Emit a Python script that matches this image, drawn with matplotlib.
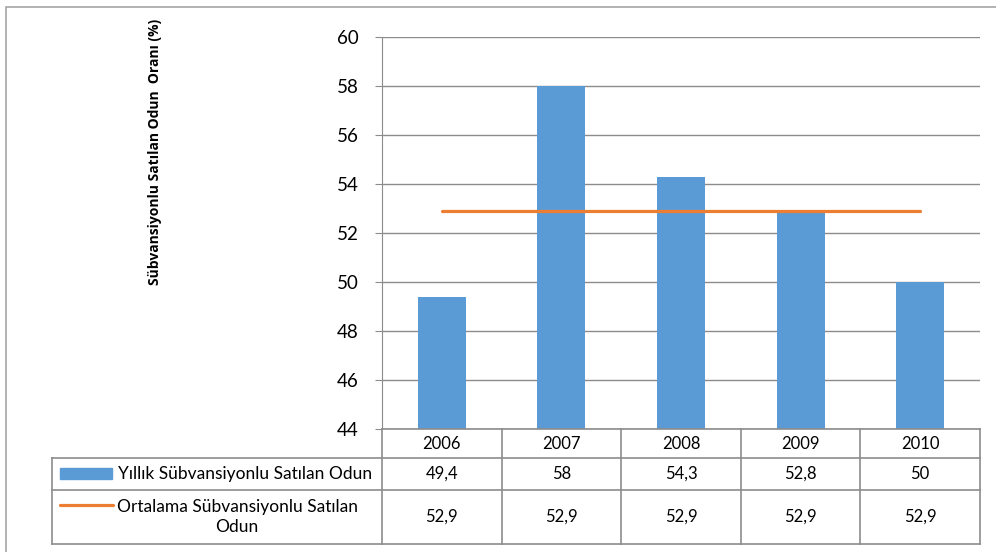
import matplotlib.pyplot as plt
import matplotlib.transforms as mtransforms
from matplotlib.patches import Rectangle
from matplotlib.lines import Line2D

# veriler
yillar = ['2006', '2007', '2008', '2009', '2010']
yillik = [49.4, 58, 54.3, 52.8, 50]
ortalama = [52.9, 52.9, 52.9, 52.9, 52.9]
yillik_etiket = ['49,4', '58', '54,3', '52,8', '50']
ortalama_etiket = ['52,9', '52,9', '52,9', '52,9', '52,9']
seri_adlari = ['Yıllık Sübvansiyonlu Satılan Odun', 'Ortalama Sübvansiyonlu Satılan\nOdun']
y_baslik = 'Sübvansiyonlu Satılan Odun  Oranı (%)'

mavi = '#5B9BD5'
turuncu = '#ED7D31'
gri = '#8C8C8C'

plt.rcParams['font.family'] = ['Lato', 'DejaVu Sans']

W, H = 996, 552
fig = plt.figure(figsize=(W / 100, H / 100), dpi=100)

def fx(px):
    return px / W

def fy(py):
    return 1 - py / H

# dış çerçeve
fig.patches.append(Rectangle((fx(6), fy(560)), 1.1, fy(7) - fy(560), transform=fig.transFigure,
                             fill=False, edgecolor='#A6A6A6', lw=1.2))

ax = fig.add_axes([fx(382), fy(429), fx(980) - fx(382), fy(37) - fy(429)])
x = list(range(len(yillar)))
ax.bar(x, yillik, width=0.4, color=mavi, zorder=3)
ax.plot(x, ortalama, color=turuncu, lw=2.3, solid_capstyle='round', zorder=4)

ax.set_xlim(-0.5, 4.5)
ax.set_ylim(44, 60)
ax.set_yticks(range(44, 61, 2))
ax.set_xticks([])
ax.grid(axis='y', color=gri, lw=1.0, zorder=0)
for s in ['top', 'right', 'bottom']:
    ax.spines[s].set_visible(False)
ax.spines['left'].set_color(gri)
ax.tick_params(axis='y', length=5, color=gri, labelsize=13.5, pad=12)

fig.text(fx(155), fy(152), y_baslik, rotation=90, ha='center', va='center',
         fontsize=10, fontweight='bold', family=['Open Sans', 'DejaVu Sans'])

# veri tablosu
tr = mtransforms.blended_transform_factory(ax.transData, fig.transFigure)
sol, sag = fx(52), fx(980)
satirlar = [429, 458, 490, 544]
for i, py in enumerate(satirlar):
    x0 = fx(382) if i == 0 else sol
    fig.add_artist(Line2D([x0, sag], [fy(py), fy(py)], transform=fig.transFigure, color=gri, lw=1.2))
fig.add_artist(Line2D([sol, sol], [fy(458), fy(544)], transform=fig.transFigure, color=gri, lw=1.2))
for k in range(len(yillar) + 1):
    fig.add_artist(Line2D([k - 0.5, k - 0.5], [fy(429), fy(544)], transform=tr, color=gri, lw=1.2))

for i in x:
    fig.text(i, fy(444), yillar[i], transform=tr, ha='center', va='center', fontsize=12)
    fig.text(i, fy(474), yillik_etiket[i], transform=tr, ha='center', va='center', fontsize=12)
    fig.text(i, fy(517), ortalama_etiket[i], transform=tr, ha='center', va='center', fontsize=12)

# gösterge anahtarları
fig.patches.append(Rectangle((fx(60), fy(479)), fx(112) - fx(60), fy(468) - fy(479),
                             transform=fig.transFigure, color=mavi))
fig.add_artist(Line2D([fx(60), fx(113)], [fy(505), fy(505)], transform=fig.transFigure,
                      color=turuncu, lw=2.3, solid_capstyle='round'))
fig.text(fx(118), fy(474), seri_adlari[0], ha='left', va='center', fontsize=12.5)
fig.text(fx(237), fy(517), seri_adlari[1], ha='center', va='center', fontsize=12.5,
         multialignment='center', linespacing=1.35)

fig.savefig('out.png', dpi=100)
